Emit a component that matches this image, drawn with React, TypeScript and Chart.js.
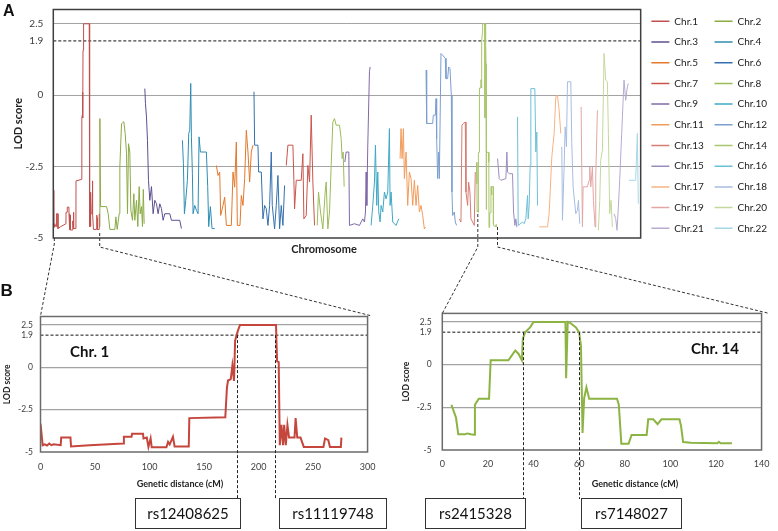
import React, { useEffect, useRef } from 'react';
import { Chart, registerables } from 'chart.js';

Chart.register(...registerables);

const FONT = 'Lato, "Open Sans", "DejaVu Sans", sans-serif';
Chart.defaults.font.family = FONT;
Chart.defaults.color = '#333';

type Pt = [number, number];

// ---------- labels / ticks ----------
const chrLabels = ['Chr.1','Chr.2','Chr.3','Chr.4','Chr.5','Chr.6','Chr.7','Chr.8','Chr.9','Chr.10','Chr.11',
  'Chr.12','Chr.13','Chr.14','Chr.15','Chr.16','Chr.17','Chr.18','Chr.19','Chr.20','Chr.21','Chr.22'];
const chrColors = ['#c0504d','#8aab45','#5e4f8f','#2f8db3','#e3782a','#3470ad','#c9544a','#9bbb59','#8068a6','#3fa8c4','#f29b5a',
  '#7c9fcf','#d67c73','#a9c66c','#9d8cbf','#6cc0d6','#f6b383','#a7bde0','#e2a6a4','#c3d89b','#b7abd0','#a6d8e6'];
const yTicks = [-5, -2.5, 0, 1.9, 2.5];
const gridValues = [-2.5, 0, 2.5];
const threshold = 1.9;
const genomeLength = 3530;
const chr14Offset = 2540;

// ---------- detailed chromosome scans (cM, LOD) ----------
const chr1Detail: Pt[] = [[0,-3.33],[2,-4.6],[4,-4.55],[6,-4.62],[8,-4.5],[10,-4.6],[12,-4.55],[18.5,-4.6],[19,-4.15],[27.5,-4.15],
  [28,-4.67],[45,-4.6],[76,-4.5],[76.5,-4.1],[83.5,-4.1],[84,-3.92],[94,-3.92],[94.5,-4.2],[97.5,-4.15],[99,-4.7],[101,-4.2],
  [102,-4.72],[115.5,-4.72],[117,-4.4],[118.5,-4.55],[121.5,-4.1],[123,-4.67],[136,-4.67],[136.5,-3.0],[169.5,-2.95],[171,-1.2],
  [172,-0.78],[174.5,-0.7],[176,0.1],[177.5,-0.8],[178.5,1.57],[181,2.15],[183,2.5],[216,2.5],[217,0.35],[218.5,0.3],[219.5,-4.6],
  [221,-3.4],[222.5,-4.6],[223.5,-3.4],[225,-4.6],[226.5,-3.4],[228,-4.15],[233,-4.15],[234,-3.0],[235.5,-4.15],[238.5,-4.15],
  [241.5,-4.7],[259.5,-4.7],[261,-4.2],[264,-4.3],[265.5,-4.7],[275.5,-4.7],[276,-4.15]];
const chr14Detail: Pt[] = [[4,-2.35],[6,-3.1],[7,-4.08],[10,-4.08],[11,-4.03],[12.5,-4.08],[14,-4.1],[14.3,-2.35],[16,-2.0],[20.5,-2.0],
  [21.2,0.25],[29,0.25],[30.5,0.54],[32,0.83],[33.4,0.64],[34.9,0.25],[35.3,1.5],[36.3,1.89],[38.5,2.18],[40,2.5],[54,2.5],[54.3,-0.8],
  [55,2.5],[56,2.45],[58.6,2.18],[60,1.89],[60.8,1.1],[61.5,-4.0],[62.2,-1.97],[63.2,-1.33],[64.4,-2.0],[76.6,-2.0],[77.4,-2.35],
  [78.5,-4.63],[81.7,-4.63],[83,-4.12],[89.6,-4.12],[90.3,-3.2],[92.5,-3.2],[94.4,-3.49],[96.1,-3.2],[104,-3.2],[104.7,-3.6],
  [105.6,-4.53],[109,-4.58],[120.6,-4.6],[121.3,-4.52],[122,-4.6],[127,-4.6]];
const chr1Markers = [180.5, 215];
const chr14Markers = [35.5, 60];

// ---------- genome-wide scan (cumulative cM, LOD) ----------
const chr2: Pt[] = [[277,-4.6],[280,-0.82],[284,-3.9],[320,-3.9],[330,-4.15],[340,-4.7],[370,-4.7],[376,-4.26],[384,-4.7],[396,-4.15],
  [400,-2.5],[410,-1.0],[424,-0.93],[432,-1.34],[440,-2.04],[446,-4.15],[452,-1.7],[460,-1.99],[466,-4.03],[476,-4.38],[484,-3.45],
  [490,-4.38],[500,-3.68],[508,-4.6],[516,-3.2],[522,-4.15],[530,-3.9],[536,-4.6],[541,-3.3],[546,-4.5]];
const chr3: Pt[] = [[550,0.23],[554,-0.3],[560,-0.76],[566,-1.58],[572,-2.98],[580,-3.68],[590,-3.2],[600,-4.15],[610,-3.68],[620,-3.8],
  [630,-4.15],[640,-3.8],[650,-3.97],[660,-4.38],[670,-4.15],[700,-4.15],[710,-4.38],[760,-4.38],[770,-4.67]];
const chr4: Pt[] = [[776,-1.58],[782,-2.4],[788,-4.15],[796,-3.68],[806,-2.98],[814,-1.34],[820,-1.23],[826,0.41],[830,-1.46],[836,-2.75],
  [840,-4.15],[850,-3.86],[860,-4.03],[870,-4.15],[876,-1.46],[884,-1.99],[920,-1.99],[928,-3.2],[934,-4.6],[944,-3.9],[954,-4.67],[970,-4.67]];
const chr5: Pt[] = [[980,-2.46],[990,-2.81],[1000,-2.69],[1006,-4.21],[1020,-3.86],[1030,-3.57],[1040,-4.56],[1070,-4.56],[1080,-2.69],
  [1090,-3.22],[1100,-1.64],[1106,-4.56],[1122,-4.56],[1130,-3.51],[1140,-3.86],[1150,-2.92],[1160,-1.23],[1170,-1.99],[1180,-3.04],
  [1190,-1.99],[1200,-1.75]];
const chr6: Pt[] = [[1206,0.12],[1210,-1.75],[1230,-1.75],[1234,-2.69],[1250,-2.69],[1260,-4.33],[1270,-3.86],[1280,-3.98],[1290,-4.56],
  [1300,-3.86],[1310,-1.99],[1316,-3.86],[1330,-4.68],[1340,-3.86],[1350,-2.81],[1360,-4.68],[1370,-3.86],[1380,-4.56],[1390,-3.16]];
const chr7: Pt[] = [[1400,-2.46],[1410,-1.75],[1440,-1.75],[1446,-2.98],[1450,-3.98],[1460,-2.98],[1490,-2.98],[1500,-2.05],[1506,-4.33],
  [1520,-4.21],[1530,-2.46],[1540,-3.04],[1550,-0.7],[1560,-3.04],[1570,-4.56]];
const chr8: Pt[] = [[1586,-4.56],[1594,-3.39],[1606,-4.09],[1620,-4.68],[1634,-3.39],[1640,-3.04],[1650,-4.68],[1660,-4.09],[1670,-2.46],
  [1680,-0.94],[1690,-0.82],[1700,-1.05],[1720,-1.05],[1730,-1.52],[1736,-2.22],[1742,-1.99],[1748,-3.2]];
const chr9: Pt[] = [[1752,-2.34],[1760,-1.99],[1776,-1.99],[1780,-4.56],[1810,-4.5],[1840,-4.56],[1850,-4.44],[1860,-4.33],[1870,-4.44],
  [1876,-4.09],[1880,-2.69],[1884,-3.86],[1890,-1.75],[1900,0.82],[1904,0.99]];
const chr10: Pt[] = [[1910,-4.56],[1920,-3.86],[1930,-3.04],[1936,-1.75],[1944,-3.86],[1950,-2.69],[1956,-4.09],[1964,-4.44],[1970,-3.86],
  [1980,-4.09],[1990,-3.39],[2000,-3.63],[2010,-3.39],[2020,-1.17],[2024,-3.86],[2030,-3.39],[2040,-4.44],[2060,-4.56],[2076,-4.33]];
const chr11: Pt[] = [[2084,-2.22],[2090,-1.17],[2096,-2.22],[2104,-1.17],[2110,-2.92],[2120,-1.99],[2130,-3.86],[2140,-2.69],[2150,-2.92],
  [2160,-3.86],[2170,-2.98],[2180,-3.86],[2190,-3.16],[2200,-4.09],[2210,-3.86],[2220,-4.21],[2230,-4.68],[2238,-4.62]];
const chr12: Pt[] = [[2240,0.88],[2244,-0.99],[2280,-0.99],[2284,-0.7],[2296,-0.7],[2300,-0.12],[2304,-1.52],[2310,-2.92],[2316,-1.99],
  [2320,-2.92],[2330,1.46],[2340,1.4],[2356,1.29],[2360,0.58],[2370,0.58],[2376,0.99],[2384,0.94],[2392,0.0],[2396,-3.39],[2400,-4.21],
  [2410,-4.09],[2416,-4.44],[2424,-4.56]];
const chr13: Pt[] = [[2440,-4.33],[2450,-4.44],[2456,-1.05],[2464,-0.99],[2476,-0.94],[2480,-3.39],[2490,-3.86],[2496,-3.04],[2504,-3.39],
  [2510,-4.33],[2520,-4.44],[2530,-4.56],[2536,-2.69]];
const chr15: Pt[] = [[2670,-2.22],[2680,-2.92],[2690,-2.98],[2720,-2.92],[2726,-1.99],[2730,-2.69],[2740,-2.75],[2760,-2.75],[2766,-4.09],
  [2774,-4.56],[2780,-4.33],[2786,-4.62]];
const chr16: Pt[] = [[2790,-0.76],[2794,-4.56],[2820,-4.44],[2830,-4.5],[2840,-4.33],[2850,-3.51],[2854,-4.33],[2860,-3.86],[2866,-2.46],
  [2870,0.23],[2894,0.23],[2900,-1.99],[2906,-1.29],[2910,-3.86]];
const chr17: Pt[] = [[2920,-4.61],[2970,-4.61],[2980,-4.15],[2996,-2.16],[3010,-1.34],[3020,-0.06],[3030,0.0],[3040,-0.53],[3050,-1.34]];
const chr18: Pt[] = [[3056,-1.81],[3060,-4.38],[3070,-2.51],[3076,-1.11],[3084,-1.81],[3090,0.47],[3110,0.47],[3116,-1.69],[3124,-3.21],
  [3140,-4.15],[3150,-4.03],[3156,-3.68],[3164,-4.5]];
const chr19: Pt[] = [[3172,-0.41],[3180,-4.61],[3184,-3.21],[3210,-3.21],[3220,-2.98],[3224,-2.51],[3230,-3.21],[3240,-2.51],[3246,-3.68],
  [3256,-4.61],[3260,-2.86],[3270,-0.53]];
const chr20: Pt[] = [[3276,-4.73],[3284,-3.68],[3290,-2.28],[3300,-1.93],[3310,1.46],[3320,0.53],[3330,0.47],[3336,-1.34],[3344,-4.15],
  [3352,-3.68],[3360,-4.61]];
const chr21: Pt[] = [[3370,-4.15],[3380,-4.32],[3388,-4.73],[3396,-3.91],[3404,-2.98],[3416,-1.34],[3430,0.53],[3440,-0.18],[3450,0.29],[3456,0.41]];
const chr22: Pt[] = [[3460,-2.98],[3500,-2.98],[3510,-1.34],[3516,-3.8]];

const genomeScan: Pt[][] = [
  chr1Detail, chr2, chr3, chr4, chr5, chr6, chr7, chr8, chr9, chr10, chr11, chr12, chr13,
  chr14Detail.map(([x, y]) => [x + chr14Offset, y] as Pt),
  chr15, chr16, chr17, chr18, chr19, chr20, chr21, chr22,
];

// ---------- helpers ----------
const toXY = (pts: Pt[]) => pts.map(([x, y]) => ({ x, y }));
const gridColor = (ctx: any) => (ctx.tick && gridValues.includes(ctx.tick.value) ? '#a3a3a3' : 'rgba(0,0,0,0)');
const thresholdSet = (xMax: number) => ({
  label: 'threshold',
  data: [{ x: 0, y: threshold }, { x: xMax, y: threshold }],
  borderColor: '#111', borderWidth: 1, borderDash: [3, 2], pointRadius: 0, fill: false,
});
const legendKey = (i: number) => (i % 2) * 100 + i;

const framePlugin = (color: string, width: number) => ({
  id: 'frame',
  afterDatasetsDraw(chart: any) {
    const { ctx, chartArea: a } = chart;
    ctx.save();
    ctx.strokeStyle = color;
    ctx.lineWidth = width;
    ctx.strokeRect(a.left, a.top, a.right - a.left, a.bottom - a.top);
    ctx.restore();
  },
});

const markerPlugin = (markers: number[], endY: number) => ({
  id: 'markers',
  afterDatasetsDraw(chart: any) {
    const { ctx } = chart;
    const xs = chart.scales.x;
    const ys = chart.scales.y;
    ctx.save();
    ctx.setLineDash([3, 2]);
    ctx.strokeStyle = '#222';
    ctx.lineWidth = 1;
    markers.forEach((m) => {
      const px = Math.round(xs.getPixelForValue(m)) + 0.5;
      ctx.beginPath();
      ctx.moveTo(px, ys.getPixelForValue(threshold));
      ctx.lineTo(px, endY);
      ctx.stroke();
    });
    ctx.restore();
  },
});

const yScaleBase = (opts: any) => ({
  min: -5, max: 3,
  afterBuildTicks: (s: any) => { s.ticks = yTicks.map((v) => ({ value: v })); },
  ticks: { padding: opts.tickPad, color: '#404040', autoSkip: false, font: { size: opts.tickSize, family: FONT }, callback: (v: any) => String(v) },
  grid: { color: gridColor, drawTicks: false, lineWidth: opts.gridWidth },
  border: { display: false },
  title: { display: true, text: 'LOD score', color: '#222', font: { size: opts.titleSize, weight: 'bold', family: FONT }, padding: { top: opts.titlePad, bottom: 0 } },
  afterFit: (s: any) => { s.width = opts.width; s.paddingTop = 0; s.paddingBottom = 0; },
});

function topConfig(): any {
  const datasets: any[] = genomeScan.map((pts, i) => ({
    label: chrLabels[i],
    data: toXY(pts),
    borderColor: chrColors[i],
    backgroundColor: chrColors[i],
    borderWidth: 1,
    pointRadius: 0,
    tension: 0,
    fill: false,
  }));
  datasets.push(thresholdSet(genomeLength));
  return {
    type: 'line',
    data: { datasets },
    plugins: [framePlugin('#3f3f3f', 1.5)],
    options: {
      responsive: false, animation: false, events: [],
      layout: { padding: { top: 5.6, right: 1, left: 0, bottom: 0 } },
      scales: {
        x: {
          type: 'linear', min: 0, max: genomeLength,
          ticks: { display: false },
          grid: { display: false, drawTicks: false },
          border: { display: false },
          afterFit: (s: any) => { s.height = 20; s.paddingLeft = 0; s.paddingRight = 0; },
        },
        y: yScaleBase({ tickPad: 10, tickSize: 10, gridWidth: 1, titleSize: 11, titlePad: 11.4, width: 53.3 }),
      },
      plugins: {
        tooltip: { enabled: false },
        title: { display: true, text: '', fullSize: false, font: { size: 2 }, padding: { top: 0, bottom: 1.5 } },
        legend: {
          position: 'right',
          align: 'start',
          labels: {
            usePointStyle: true,
            pointStyle: 'line',
            pointStyleWidth: 18,
            boxHeight: 10,
            padding: 10.7,
            color: '#222',
            font: { size: 10, family: FONT },
            filter: (item: any) => item.datasetIndex < chrLabels.length,
            sort: (a: any, b: any) => legendKey(a.datasetIndex) - legendKey(b.datasetIndex),
            generateLabels: (chart: any) =>
              (Chart.defaults.plugins.legend.labels as any).generateLabels(chart).map((it: any) => ({ ...it, lineWidth: 1.5 })),
          },
        },
      },
    },
  };
}

function detailConfig(o: any): any {
  return {
    type: 'line',
    data: {
      datasets: [
        { label: o.label, data: toXY(o.points), borderColor: o.color, borderWidth: 2, pointRadius: 0, tension: 0, fill: false },
        thresholdSet(o.xMax),
      ],
    },
    plugins: [framePlugin('#6b6b6b', 1.5), markerPlugin(o.markers, o.markerEnd)],
    options: {
      responsive: false, animation: false, events: [],
      layout: { padding: { top: o.padTop, right: o.padRight, left: 0, bottom: 0 } },
      scales: {
        x: {
          type: 'linear', min: 0, max: o.xMax,
          ticks: { stepSize: o.xStep, padding: o.xTickPad, color: '#404040', font: { size: 9, family: FONT }, autoSkip: false },
          grid: { display: false, drawTicks: false },
          border: { display: false },
          afterFit: (s: any) => { s.height = o.xHeight; },
        },
        y: yScaleBase({ tickPad: o.yTickPad, tickSize: 8.5, gridWidth: 1.3, titleSize: 8.5, titlePad: o.yTitlePad, width: o.yWidth }),
      },
      plugins: { legend: { display: false }, tooltip: { enabled: false } },
    },
  };
}

const serif = '"Liberation Sans", Arial, sans-serif';

export default function App() {
  const topRef = useRef<HTMLCanvasElement>(null);
  const leftRef = useRef<HTMLCanvasElement>(null);
  const rightRef = useRef<HTMLCanvasElement>(null);

  useEffect(() => {
    const charts: Chart[] = [];
    charts.push(new Chart(topRef.current as HTMLCanvasElement, topConfig()));
    charts.push(new Chart(leftRef.current as HTMLCanvasElement, detailConfig({
      label: 'Chr. 1', points: chr1Detail, color: '#c5463c', xMax: 300, xStep: 50,
      padTop: 20.5, padRight: 13, yWidth: 40.5, xHeight: 79, xTickPad: 9.6, yTickPad: 7.5, yTitlePad: 2.1,
      markers: chr1Markers, markerEnd: 203,
    })));
    charts.push(new Chart(rightRef.current as HTMLCanvasElement, detailConfig({
      label: 'Chr. 14', points: chr14Detail, color: '#8cb443', xMax: 140, xStep: 20,
      padTop: 17.4, padRight: 9, yWidth: 47.3, xHeight: 81, xTickPad: 8.6, yTickPad: 10.6, yTitlePad: 6.3,
      markers: chr14Markers, markerEnd: 203,
    })));
    return () => charts.forEach((c) => c.destroy());
  }, []);

  const boxes = [
    { x: 135.5, w: 105, text: 'rs12408625' },
    { x: 279.5, w: 107, text: 'rs11119748' },
    { x: 425.5, w: 100, text: 'rs2415328' },
    { x: 581.5, w: 100, text: 'rs7148027' },
  ];

  return (
    <div style={{ position: 'absolute', left: 0, top: 0, width: 778, height: 531, background: '#fff', overflow: 'hidden' }}>
      <canvas ref={topRef} width={778} height={258} style={{ position: 'absolute', left: 0, top: 0 }} />
      <canvas ref={leftRef} width={385} height={235} style={{ position: 'absolute', left: 0, top: 296 }} />
      <canvas ref={rightRef} width={383} height={235} style={{ position: 'absolute', left: 395, top: 296 }} />
      <svg width={778} height={531} style={{ position: 'absolute', left: 0, top: 0, pointerEvents: 'none' }}>
        <g fill="none" stroke="#333" strokeWidth={1} strokeDasharray="3 2">
          <polyline points="54.3,238 54.3,244 40.5,316" />
          <polyline points="99.7,233 99.7,247 372,316" />
          <polyline points="477.8,214 477.8,247 442.3,313.4" />
          <polyline points="497.5,227 497.5,247 769,313.4" />
        </g>
        <text x={3} y={15.5} fontFamily={serif} fontWeight="bold" fontSize={16} fill="#111">A</text>
        <text x={0.5} y={295.5} fontFamily={serif} fontWeight="bold" fontSize={17} fill="#111">B</text>
        <text x={324} y={253} textAnchor="middle" fontFamily={FONT} fontWeight="bold" fontSize={11} fill="#222">Chromosome</text>
        <text x={180} y={487} textAnchor="middle" fontFamily={FONT} fontWeight="bold" fontSize={9} fill="#222">Genetic distance (cM)</text>
        <text x={635} y={487} textAnchor="middle" fontFamily={FONT} fontWeight="bold" fontSize={9} fill="#222">Genetic distance (cM)</text>
        <text x={70} y={357} fontFamily={FONT} fontWeight="bold" fontSize={15} fill="#111">Chr. 1</text>
        <text x={691} y={354} fontFamily={FONT} fontWeight="bold" fontSize={15} fill="#111">Chr. 14</text>
        {boxes.map((b) => (
          <g key={b.text}>
            <rect x={b.x} y={498.5} width={b.w} height={30} fill="#fff" stroke="#333" strokeWidth={1} />
            <text x={b.x + b.w / 2} y={519} textAnchor="middle" fontFamily={FONT} fontSize={15} fill="#111">{b.text}</text>
          </g>
        ))}
      </svg>
    </div>
  );
}
